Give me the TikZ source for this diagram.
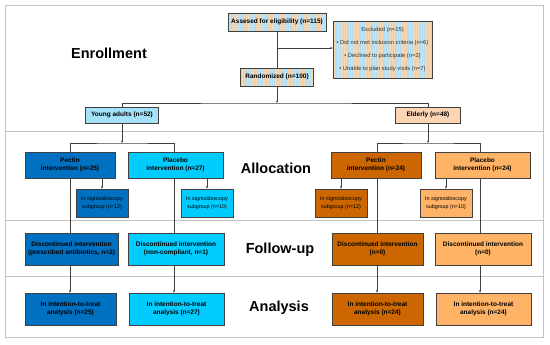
\documentclass[tikz,border=0pt]{standalone}
\usepackage{fontspec}
\setmainfont{Liberation Sans}
\usetikzlibrary{arrows.meta}
\definecolor{stripeA}{HTML}{F6D8B4}
\definecolor{stripeB}{HTML}{B4DDF2}
\definecolor{boxline}{HTML}{404040}
\definecolor{panelc}{HTML}{C4C4C4}
\definecolor{youngc}{HTML}{A6E1FA}
\definecolor{elderc}{HTML}{FCD5B4}
\definecolor{pecYc}{HTML}{0070C0}
\definecolor{plaYc}{HTML}{00CCFF}
\definecolor{pecEc}{HTML}{CC6600}
\definecolor{plaEc}{HTML}{FFB366}
\begin{document}
\begin{tikzpicture}[x=1pt,y=-1pt,
  panel/.style={draw=panelc, line width=0.9pt},
  box/.style={draw=boxline, line width=0.6pt, inner sep=0pt, align=center,
    font=\fontsize{6.5}{8}\selectfont\bfseries, text=black},
  striped/.style={box, fill=stripeA,
    path picture={
      \path (path picture bounding box.north west) coordinate (pw)
            (path picture bounding box.south east) coordinate (pe);
      \foreach \i in {0,...,42} {
        \fill[stripeB] ([xshift=\i*2.4pt]pw) rectangle ([xshift=\i*2.4pt+1.2pt]pw |- pe);
      }}},
  subbox/.style={box, font=\fontsize{5.4}{8}\selectfont, minimum width=52pt, minimum height=28pt},
  mainbox/.style={box, minimum height=26pt},
  fubox/.style={box, minimum height=32pt},
  stage/.style={font=\fontsize{14.5}{16}\selectfont\bfseries, anchor=base, inner sep=0pt},
  conn/.style={draw=boxline, line width=0.5pt},
  arr/.style={conn, -{Stealth[length=2.6pt,width=2.2pt]}}]
\useasboundingbox (0,0) rectangle (550,345);
\fill[white] (0,0) rectangle (550,345);
% panels
\draw[panel] (5,5) rectangle (543,337);
\draw[panel] (5,131) -- (543,131);
\draw[panel] (5,220) -- (543,220);
\draw[panel] (5,276) -- (543,276);
% stage labels
\node[stage] (tEnr) at (109,59) {Enrollment};
\node[stage] (tAll) at (276,174) {Allocation};
\node[stage] (tFol) at (280,253) {Follow-up};
\node[stage] (tAna) at (279,312) {Analysis};
% enrollment
\node[striped, minimum width=98pt, minimum height=18pt] (assess) at (277,22) {Assesed for eligibility (n=115)};
\node[striped, minimum width=99pt, minimum height=57pt, font=\fontsize{5.8}{13}\selectfont, text=black!80] (excl) at (382.5,49.5)
  {Excluded (n=15)\\• Did not met inclusion criteria (n=6)\\• Declined to participate (n=2)\\• Unable to plan study visits (n=7)};
\node[striped, minimum width=73pt, minimum height=18pt] (rand) at (277,77) {Randomized (n=100)};
\node[box, fill=youngc, minimum width=73pt, minimum height=16pt] (young) at (122,115) {Young adults (n=52)};
\node[box, fill=elderc, minimum width=65pt, minimum height=16pt] (elder) at (428,115) {Elderly (n=48)};
% allocation
\node[mainbox, fill=pecYc, minimum width=90pt] (pecY) at (70,165) {Pectin\\intervention (n=25)};
\node[mainbox, fill=plaYc, minimum width=95pt] (plaY) at (175.5,165) {Placebo\\intervention (n=27)};
\node[mainbox, fill=pecEc, minimum width=90pt] (pecE) at (376,165) {Pectin\\intervention (n=24)};
\node[mainbox, fill=plaEc, minimum width=95pt] (plaE) at (482.5,165) {Placebo\\intervention (n=24)};
\node[subbox, fill=pecYc] (subPY) at (102,203) {In sigmoidoscopy\\subgroup (n=12)};
\node[subbox, fill=plaYc] (subLY) at (207,203) {In sigmoidoscopy\\subgroup (n=10)};
\node[subbox, fill=pecEc] (subPE) at (341,203) {In sigmoidoscopy\\subgroup (n=12)};
\node[subbox, fill=plaEc] (subLE) at (446,203) {In sigmoidoscopy\\subgroup (n=10)};
% follow-up
\node[fubox, fill=pecYc, minimum width=93pt] (fuPY) at (71.5,249) {Discontinued intervention\\(prescribed antibiotics, n=2)};
\node[fubox, fill=plaYc, minimum width=96pt] (fuLY) at (176,249) {Discontinued intervention\\(non-compliant, n=1)};
\node[fubox, fill=pecEc, minimum width=91pt] (fuPE) at (377.5,249) {Discontinued intervention\\(n=0)};
\node[fubox, fill=plaEc, minimum width=96pt] (fuLE) at (483,249) {Discontinued intervention\\(n=0)};
% analysis
\node[fubox, fill=pecYc, minimum width=91pt] (anPY) at (70.5,309) {In intention-to-treat\\analysis (n=25)};
\node[fubox, fill=plaYc, minimum width=95pt] (anLY) at (176.5,309) {In intention-to-treat\\analysis (n=27)};
\node[fubox, fill=pecEc, minimum width=91pt] (anPE) at (377.5,309) {In intention-to-treat\\analysis (n=24)};
\node[fubox, fill=plaEc, minimum width=95pt] (anLE) at (483.5,309) {In intention-to-treat\\analysis (n=24)};
% column coordinates
\coordinate (cA) at (70,0);
\coordinate (cB) at (174,0);
\coordinate (cC) at (377,0);
\coordinate (cD) at (480,0);
\coordinate (branch) at (277,48);
\coordinate (split0) at (277,103);
\coordinate (splitY) at (122,143);
\coordinate (splitE) at (428,143);
% connectors
\draw[conn] (assess) -- (rand);
\draw[arr] (branch) -- (branch -| excl.west);
\draw[arr] (rand) -- (split0);
\draw[conn] (young.north) |- (split0) -| (elder.north);
\draw[arr] (young) -- (splitY);
\draw[arr] (elder) -- (splitE);
\draw[conn] (pecY.north -| cA) |- (splitY) -| (plaY.north -| cB);
\draw[conn] (pecE.north -| cC) |- (splitE) -| (plaE.north -| cD);
\draw[arr] (pecY.south -| subPY) -- (subPY);
\draw[arr] (plaY.south -| subLY) -- (subLY);
\draw[arr] (pecE.south -| subPE) -- (subPE);
\draw[arr] (plaE.south -| subLE) -- (subLE);
\draw[conn] (pecY.south -| cA) -- (fuPY.north -| cA);
\draw[conn] (plaY.south -| cB) -- (fuLY.north -| cB);
\draw[conn] (pecE.south -| cC) -- (fuPE.north -| cC);
\draw[conn] (plaE.south -| cD) -- (fuLE.north -| cD);
\draw[arr] (fuPY.south -| cA) -- (anPY.north -| cA);
\draw[arr] (fuLY.south -| cB) -- (anLY.north -| cB);
\draw[arr] (fuPE.south -| cC) -- (anPE.north -| cC);
\draw[arr] (fuLE.south -| cD) -- (anLE.north -| cD);
\end{tikzpicture}
\end{document}
